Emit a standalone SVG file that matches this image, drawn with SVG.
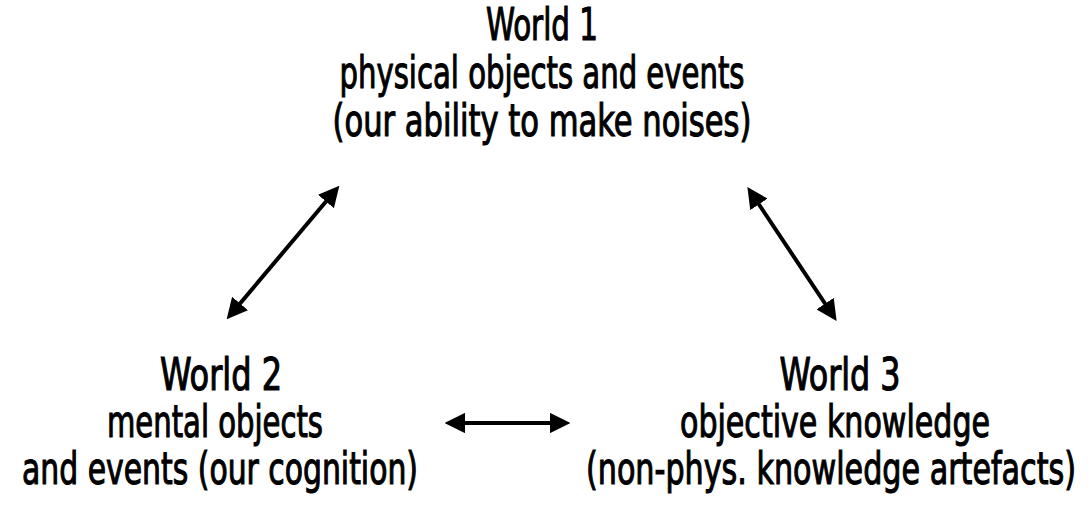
<svg xmlns="http://www.w3.org/2000/svg" width="1088" height="508" viewBox="0 0 1088 508">
  <style>
    .lbl { font-family: "Liberation Sans Narrow", "DejaVu Sans Condensed", "Liberation Sans", sans-serif; font-size: 44px; fill: #000; stroke: #000; stroke-width: 1.1; text-anchor: middle; }
    .conn { stroke: #000; stroke-width: 4; fill: none; marker-start: url(#head); marker-end: url(#head); }
  </style>
  <defs>
    <marker id="head" viewBox="0 0 10 10" refX="6" refY="5" markerWidth="5.2" markerHeight="5.2" orient="auto-start-reverse" markerUnits="strokeWidth">
      <path d="M0,0 L10,5 L0,10 Z" fill="#000"/>
    </marker>
  </defs>
  <rect width="1088" height="508" fill="#fff"/>

  <g id="world1">
    <text class="lbl" x="542" y="40" textLength="112" lengthAdjust="spacingAndGlyphs">World 1</text>
    <text class="lbl" x="542" y="88" textLength="405" lengthAdjust="spacingAndGlyphs">physical objects and events</text>
    <text class="lbl" x="542" y="136" textLength="419" lengthAdjust="spacingAndGlyphs">(our ability to make noises)</text>
  </g>

  <g id="world2">
    <text class="lbl" x="221" y="390" textLength="122" lengthAdjust="spacingAndGlyphs">World 2</text>
    <text class="lbl" x="215" y="437" textLength="216" lengthAdjust="spacingAndGlyphs">mental objects</text>
    <text class="lbl" x="220" y="484" textLength="396" lengthAdjust="spacingAndGlyphs">and events (our cognition)</text>
  </g>

  <g id="world3">
    <text class="lbl" x="840" y="390" textLength="121" lengthAdjust="spacingAndGlyphs">World 3</text>
    <text class="lbl" x="835" y="437" textLength="310" lengthAdjust="spacingAndGlyphs">objective knowledge</text>
    <text class="lbl" x="831" y="484" textLength="490" lengthAdjust="spacingAndGlyphs">(non-phys.  knowledge artefacts)</text>
  </g>

  <g id="connectors">
    <line class="conn" x1="232" y1="313" x2="334" y2="192"/>
    <line class="conn" x1="752" y1="194" x2="832" y2="314"/>
    <line class="conn" x1="453" y1="423" x2="562" y2="423"/>
  </g>
</svg>
